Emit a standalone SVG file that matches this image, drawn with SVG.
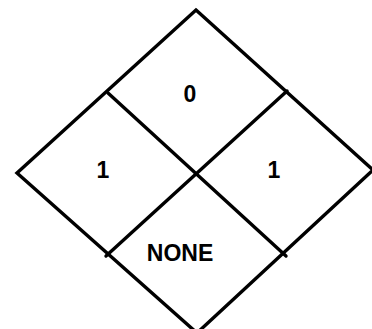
<svg xmlns="http://www.w3.org/2000/svg" width="372" height="329" viewBox="0 0 372 329">
<style>
.ln{stroke:#000;stroke-width:3.4;fill:none;stroke-linecap:round;stroke-linejoin:miter}
.t{font-family:"Liberation Sans",Arial,sans-serif;font-weight:bold;font-size:23px;fill:#000;text-anchor:middle}
</style>
<rect width="372" height="329" fill="#fff"/>
<g id="connectors">
<polygon class="ln" points="196,10 373,170 197,333 17,173"/>
<line class="ln" x1="108" y1="93" x2="286" y2="256"/>
<line class="ln" x1="287" y1="91" x2="106" y2="256"/>
</g>
<g id="top"><text class="t" x="190" y="102">0</text></g>
<g id="left"><text class="t" x="103" y="178">1</text></g>
<g id="right"><text class="t" x="274" y="178">1</text></g>
<g id="bottom"><text class="t" x="180" y="261">NONE</text></g>
</svg>
